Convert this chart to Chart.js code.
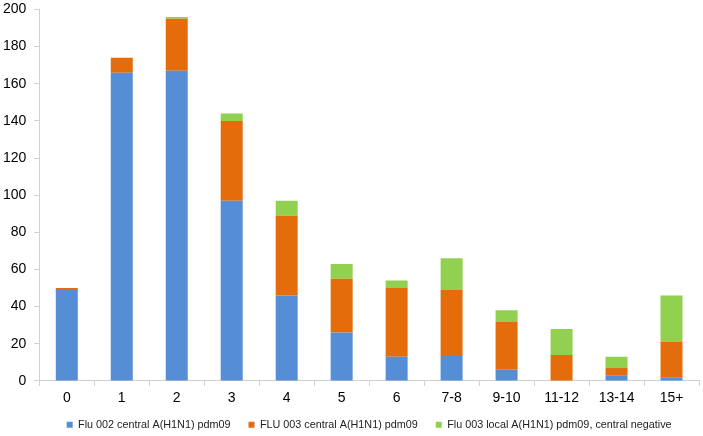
<!DOCTYPE html>
<html>
<head>
<meta charset="utf-8">
<script src="https://cdn.jsdelivr.net/npm/chart.js@4/dist/chart.umd.min.js"></script>
<style>
html,body{margin:0;padding:0;background:#fff;}
#wrap{width:703px;height:436px;position:relative;}
</style>
</head>
<body>
<div id="wrap"><canvas id="c" width="703" height="436"></canvas></div>
<script>
const categories = ["0","1","2","3","4","5","6","7-8","9-10","11-12","13-14","15+"];
const flu002Central = [49,166,167,97,46,26,13,14,6,0,3,2];
const flu003Central = [1,8,28,43,43,29,37,35,26,14,4,19];
const flu003LocalCentralNeg = [0,0,1,4,8,8,4,17,6,14,6,25];
const seriesNames = ["Flu 002 central A(H1N1) pdm09","FLU 003 central A(H1N1) pdm09","Flu 003 local A(H1N1) pdm09, central negative"];
const yTicks = {min:0, max:200, step:20};

const axisColor = '#d0d0d0';
const font = {family:'"Liberation Sans", Arial, sans-serif', size:14};

const legendNudge = {
  id:'legendNudge',
  afterLayout(chart){
    const lg = chart.legend;
    if (lg) { lg.top -= 10; lg.bottom -= 10; }
  }
};

new Chart(document.getElementById('c'), {
  type:'bar',
  data:{
    labels:categories,
    datasets:[
      {label:seriesNames[0], data:flu002Central, backgroundColor:'#558ed5'},
      {label:seriesNames[1], data:flu003Central, backgroundColor:'#e46c0a'},
      {label:seriesNames[2], data:flu003LocalCentralNeg, backgroundColor:'#92d050'}
    ]
  },
  plugins:[legendNudge],
  options:{
    responsive:false,
    animation:false,
    datasets:{bar:{barPercentage:0.4, categoryPercentage:1.0}},
    layout:{padding:{left:2.3,right:4,top:9.5,bottom:-14.1}},
    plugins:{
      legend:{
        position:'bottom',
        fullSize:false,
        labels:{boxWidth:6, boxHeight:6, padding:18, color:'#222', font:{family:font.family, size:10.8}}
      },
      tooltip:{enabled:false}
    },
    scales:{
      x:{
        stacked:true,
        grid:{display:true, drawOnChartArea:false, drawTicks:true, tickLength:5, color:axisColor, offset:true},
        border:{display:true, color:axisColor},
        ticks:{color:'#000', font:font, padding:4.3, maxRotation:0, autoSkip:false},
        afterFit(s){ s.paddingLeft = 0; s.paddingRight = 0; }
      },
      y:{
        stacked:true,
        min:yTicks.min, max:yTicks.max,
        grid:{display:true, drawOnChartArea:false, drawTicks:true, tickLength:5, color:axisColor},
        border:{display:true, color:axisColor},
        ticks:{stepSize:yTicks.step, color:'#000', font:font, padding:8},
        afterFit(s){ s.width = 37; s.paddingTop = 0; s.paddingBottom = 0; }
      }
    }
  }
});
</script>
</body>
</html>
